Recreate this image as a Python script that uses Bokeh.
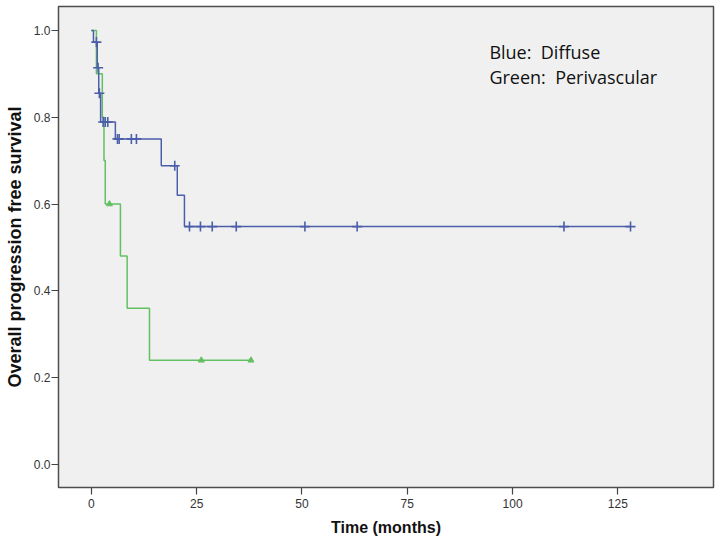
from bokeh.plotting import figure
from bokeh.models import Range1d, FixedTicker, Label, NumeralTickFormatter
from bokeh.embed import file_html
from bokeh.resources import INLINE

# ---- data ----
blue_event_times = [0.5, 1.4, 1.75, 2.2, 5.7, 16.6, 20.4, 22.1]
blue_event_surv = [0.973, 0.914, 0.855, 0.789, 0.750, 0.688, 0.620, 0.548]
blue_end_time = 128.0
blue_censor_times = [1.2, 1.6, 1.9, 2.8, 3.3, 3.9, 6.2, 6.6, 9.5, 10.7, 19.8,
                     23.3, 25.9, 28.7, 34.4, 50.7, 63.1, 112.2, 128.0]

green_event_times = [1.2, 2.6, 3.0, 3.3, 6.9, 8.5, 13.8]
green_event_surv = [0.9, 0.8, 0.7, 0.6, 0.48, 0.36, 0.24]
green_end_time = 37.9
green_censor_times = [4.3, 26.1, 37.9]

x_ticks = [0, 25, 50, 75, 100, 125]
y_ticks = [0.0, 0.2, 0.4, 0.6, 0.8, 1.0]

BLUE = "#4b5ea9"
GREEN = "#62c062"


def step_xy(times, surv, end):
    xs = [0.0] + list(times) + [end]
    ys = [1.0] + list(surv) + [surv[-1]]
    return xs, ys


def surv_at(t, times, surv):
    s = 1.0
    for ti, si in zip(times, surv):
        if ti <= t:
            s = si
    return s


p = figure(width=716, height=540,
           x_range=Range1d(-7.8, 147.7), y_range=Range1d(-0.053, 1.055),
           output_backend="svg", toolbar_location=None,
           min_border_left=58, min_border_right=3,
           min_border_top=6, min_border_bottom=53)

p.background_fill_color = "#f0f0f0"
p.border_fill_color = "white"
p.outline_line_color = "#4d4d4d"
p.outline_line_width = 1.5
p.xgrid.grid_line_color = None
p.ygrid.grid_line_color = None

bx, by = step_xy(blue_event_times, blue_event_surv, blue_end_time)
gx, gy = step_xy(green_event_times, green_event_surv, green_end_time)
p.step(gx, gy, mode="after", line_color=GREEN, line_width=1.5)
p.step(bx, by, mode="after", line_color=BLUE, line_width=1.5)

bcy = [surv_at(t, blue_event_times, blue_event_surv) for t in blue_censor_times]
gcy = [surv_at(t, green_event_times, green_event_surv) for t in green_censor_times]
p.scatter(green_censor_times, gcy, marker="triangle", size=6,
          line_color=GREEN, fill_color=GREEN, line_width=1)
p.scatter(blue_censor_times, bcy, marker="cross", size=10,
          line_color=BLUE, line_width=1.6)

for ax in (p.xaxis, p.yaxis):
    ax.axis_line_color = None
    ax.major_tick_line_color = "#444444"
    ax.major_tick_line_width = 1.2
    ax.major_tick_in = 0
    ax.major_tick_out = 7
    ax.minor_tick_line_color = None
    ax.major_label_text_font = "Liberation Sans"
    ax.major_label_text_font_size = "12px"
    ax.major_label_text_color = "#333333"
    ax.axis_label_text_font = "Liberation Sans"
    ax.axis_label_text_font_style = "bold"
    ax.axis_label_text_color = "#111111"

p.xaxis.ticker = FixedTicker(ticks=x_ticks)
p.yaxis.ticker = FixedTicker(ticks=y_ticks)
p.yaxis.formatter = NumeralTickFormatter(format="0.0")
p.xaxis.axis_label = "Time (months)"
p.yaxis.axis_label = "Overall progression free survival"
p.xaxis.axis_label_text_font_size = "16px"
p.yaxis.axis_label_text_font_size = "18px"
p.xaxis.major_label_standoff = 4
p.xaxis.axis_label_standoff = 8
p.yaxis.major_label_standoff = 1
p.yaxis.axis_label_standoff = 6

for txt, yv in (("Blue:\u00a0 Diffuse", 0.950), ("Green:\u00a0 Perivascular", 0.892)):
    p.add_layout(Label(x=94.5, y=yv, text=txt, text_font="Open Sans",
                       text_font_size="18px", text_color="#111111",
                       text_baseline="middle", text_align="left"))

open("out.html", "w").write(file_html(p, INLINE))
